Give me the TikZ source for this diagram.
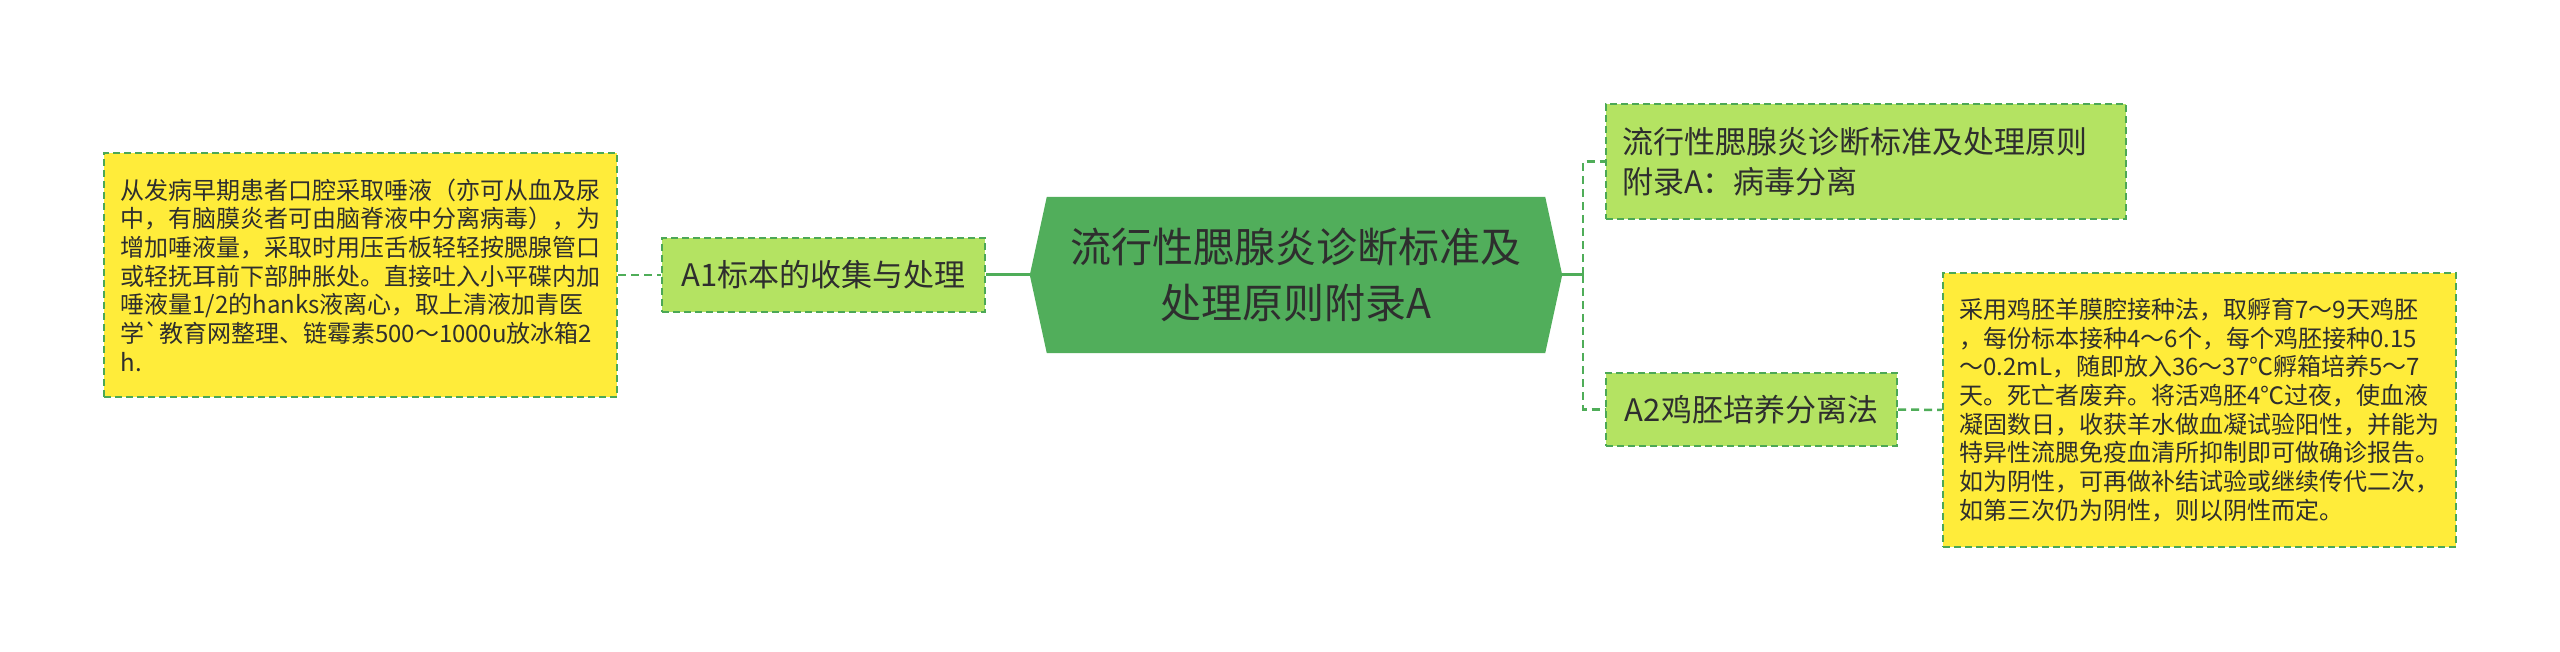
\documentclass[tikz,border=0pt]{standalone}
\usepackage{fontspec}
\newfontfamily\cjk{Noto Sans CJK SC}
\usetikzlibrary{backgrounds}
\definecolor{centergreen}{HTML}{51AE5B}
\definecolor{nodegreen}{HTML}{B4E362}
\definecolor{noteyellow}{HTML}{FFEC3A}
\definecolor{bordergreen}{HTML}{4CA855}
\definecolor{linegreen}{HTML}{4FAD59}
\definecolor{textc}{HTML}{2E2E2E}
\tikzset{
  boxbase/.style={draw=bordergreen, line width=2pt, dash pattern=on 7pt off 4pt, inner sep=0pt, text=textc},
  gbox/.style={boxbase, fill=nodegreen, font={\cjk\fontsize{31}{40}\selectfont}},
  ybox/.style={boxbase, fill=noteyellow, font={\cjk\fontsize{24}{28.7}\selectfont}, align=left},
  conn/.style={draw=linegreen, line width=2.5pt, dash pattern=on 8pt off 5pt},
  trunk/.style={draw=linegreen, line width=3pt},
  centernode/.style={inner sep=0pt, text=textc, align=center, font={\cjk\fontsize{41}{56}\selectfont}}
}
\begin{document}
\begin{tikzpicture}[x=1pt,y=-1pt]
\useasboundingbox (0,0) rectangle (2560,652);

\node[centernode, minimum width=532pt, minimum height=156pt] (C) at (1296,275)
  {流行性腮腺炎诊断标准及\\处理原则附录A};

\node[gbox, minimum width=323pt, minimum height=74pt] (A1) at (823.5,275) {A1标本的收集与处理};

\node[ybox, minimum width=513pt, minimum height=244pt] (L) at (360.5,275)
  {从发病早期患者口腔采取唾液（亦可从血及尿\\
   中，有脑膜炎者可由脑脊液中分离病毒），为\\
   增加唾液量，采取时用压舌板轻轻按腮腺管口\\
   或轻抚耳前下部肿胀处。直接吐入小平碟内加\\
   唾液量1/2的hanks液离心，取上清液加青医\\
   学`教育网整理、链霉素500～1000u放冰箱2\\
   h.};

\node[gbox, minimum width=520pt, minimum height=115pt, text width=488pt, align=left] (T) at (1866,161.5)
  {流行性腮腺炎诊断标准及处理原则\\附录A：病毒分离};

\node[gbox, minimum width=291pt, minimum height=73pt] (A2) at (1751.5,409.5) {A2鸡胚培养分离法};

\node[ybox, minimum width=513pt, minimum height=274pt] (R) at (2199.5,410)
  {采用鸡胚羊膜腔接种法，取孵育7～9天鸡胚\\
   ，每份标本接种4～6个，每个鸡胚接种0.15\\
   ～0.2mL，随即放入36～37℃孵箱培养5～7\\
   天。死亡者废弃。将活鸡胚4℃过夜，使血液\\
   凝固数日，收获羊水做血凝试验阳性，并能为\\
   特异性流腮免疫血清所抑制即可做确诊报告。\\
   如为阴性，可再做补结试验或继续传代二次，\\
   如第三次仍为阴性，则以阴性而定。};

\coordinate (J) at (1583,275);

\begin{scope}[on background layer]
  \fill[white] (0,0) rectangle (2560,652);
  \fill[centergreen] (C.west) -- ([xshift=17pt]C.north west) -- ([xshift=-17pt]C.north east)
     -- (C.east) -- ([xshift=-17pt]C.south east) -- ([xshift=17pt]C.south west) -- cycle;
\end{scope}

\draw[trunk] (A1.east) -- (C.west);
\draw[conn] (L.east) -- (A1.west);
\draw[trunk] (C.east) -- (J);
\draw[conn] (J) |- (T.west);
\draw[conn] (J) |- (A2.west);
\draw[conn] (A2.east) -- (R.west);
\end{tikzpicture}
\end{document}
